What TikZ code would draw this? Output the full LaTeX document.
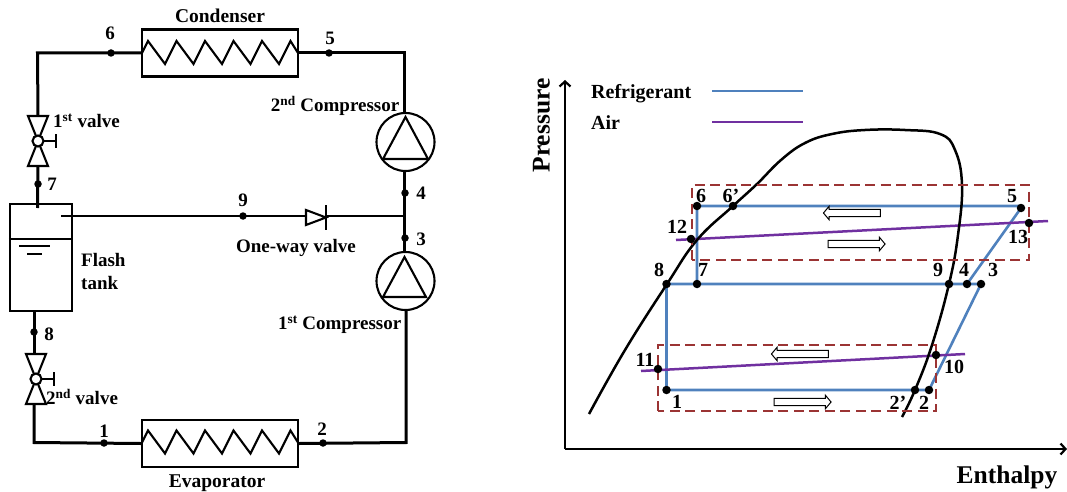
\documentclass[tikz,border=0pt]{standalone}
\usepackage{fontspec}
\setmainfont{Liberation Serif}
\usepackage{xcolor}
\usepackage{tikz}
\usetikzlibrary{shapes.arrows, arrows.meta, positioning, calc, backgrounds}
\definecolor{myblue}{RGB}{79,129,189}
\definecolor{mypurple}{RGB}{112,48,160}
\definecolor{myred}{RGB}{155,52,52}
\tikzset{
  pipe/.style={line width=3pt, color=black},
  part/.style={line width=2.1pt, color=black},
  hxbox/.style={rectangle, draw, line width=2.1pt, minimum width=156pt,
    minimum height=47pt, inner sep=0pt},
  comp/.style={circle, draw, line width=2.1pt, minimum size=58pt, inner sep=0pt},
  dot/.style={circle, fill=black, minimum size=7.5pt, inner sep=0pt},
  pdot/.style={circle, fill=black, minimum size=8.5pt, inner sep=0pt},
  lbl/.style={font=\fontsize{19}{23}\selectfont\bfseries, inner sep=0pt},
  hxlbl/.style={font=\fontsize{19.5}{23}\selectfont\bfseries, inner sep=0pt},
  plbl/.style={font=\fontsize{20}{22}\selectfont\bfseries, inner sep=0pt},
  axlbl/.style={font=\fontsize{25.5}{28}\selectfont\bfseries, inner sep=0pt},
  leglbl/.style={font=\fontsize{20}{22}\selectfont\bfseries, inner sep=0pt, anchor=west},
  refrig/.style={line width=2.6pt, color=myblue},
  air/.style={line width=2.5pt, color=mypurple},
  zone/.style={draw=myred, line width=2.4pt, dash pattern=on 10pt off 5.5pt},
  flow/.style={single arrow, draw, line width=1pt, fill=white, minimum height=57pt,
    single arrow head extend=3pt, single arrow tip angle=100, inner xsep=0pt, inner ysep=3.2pt},
  axis/.style={-{Straight Barb[length=5pt,width=11pt]}, line width=2.2pt}
}
% coil inside a heat exchanger, #1 = y of the pipe
\newcommand{\coil}[1]{
  \draw[part] (142,#1) -- (148,#1-12)
    \foreach \i in {0,...,4} { -- (165+28.5*\i,#1+11) -- (176.5+28.5*\i,#1-12) }
    -- (298,#1);
}
% expansion valve: #1 = x, #2 = y of its centre, #3 = its name
\newcommand{\valve}[3]{
  \coordinate (#3top) at (#1,#2-25);
  \coordinate (#3bot) at (#1,#2+25);
  \draw[part] (#1-10,#2-25) -- (#1+10,#2-25) -- (#1-10,#2+25) -- (#1+10,#2+25) -- cycle;
  \draw[part] (#1,#2) -- (#1+18,#2) (#1+18,#2-7) -- (#1+18,#2+7);
  \node[circle, draw, fill=white, line width=2.1pt, minimum size=11pt, inner sep=0pt] (#3) at (#1,#2) {};
}
% triangle inside a compressor: #1 = apex y, #2 = base y, #3 = apex x, #4 = base right x
\newcommand{\comptri}[4]{
  \draw[part] (#3,#1) -- (#4,#2) -- (2*#3-#4,#2) -- cycle;
}
\begin{document}
\begin{tikzpicture}[x=1pt, y=-1pt]
  \useasboundingbox (0,0) rectangle (1067,492);
  % Heat exchangers
  \node[hxbox] (cond) at (220,53) {};
  \node[hxbox] (evap) at (220,443.5) {};
  \coil{53}
  \coil{442.5}
  \node[hxlbl, above=6pt of cond] (condlbl) {Condenser};
  \node[hxlbl, below=6.5pt of evap, xshift=-3pt] (evaplbl) {Evaporator};
  % Compressors
  \node[comp] (compb) at (405.5,142) {};
  \node[comp] (compa) at (405.5,281) {};
  \comptri{117}{159}{405.5}{428}
  \comptri{257}{297}{404.5}{426}
  \node[lbl, anchor=east] (compblbl) at (399.5,106) {2\textsuperscript{nd} Compressor};
  \node[lbl, anchor=east] (compalbl) at (401.5,325) {1\textsuperscript{st} Compressor};
  % Valves
  \valve{38}{141}{vone}
  \valve{36}{379}{vtwo}
  \node[lbl, anchor=west] (vonelbl) at (53,121) {1\textsuperscript{st} valve};
  \node[lbl, anchor=west] (vtwolbl) at (46,397) {2\textsuperscript{nd} valve};
  % Flash tank
  \node[rectangle, draw, line width=2.1pt, minimum width=62pt, minimum height=107pt, inner sep=0pt] (tank) at (41,257.5) {};
  \draw[part] (tank.west |- 0,239) -- (tank.east |- 0,239);
  \draw[part] (19,246) -- (50,246);
  \draw[part] (27,254) -- (42,254);
  \node[lbl, anchor=west, align=left] (tanklbl) at (81,271.5) {Flash\\tank};
  % One-way valve
  \coordinate (owin) at (306,217);
  \coordinate (owout) at (326,217);
  \coordinate (tee) at (405,216);
  \coordinate (tankin) at (61,216);
  \draw[part] (306,210) -- (326,217.5) -- (306,225) -- cycle;
  \draw[part] (326,205) -- (326,230);
  \node[lbl] (owlbl) at (296,248) {One-way valve};
  % Pipes
  \coordinate (ca) at (37.5,53);
  \coordinate (cb) at (404.5,53);
  \coordinate (cc) at (34,442.5);
  \coordinate (cd) at (406,442.5);
  \draw[pipe] (cond.west) -- (ca) -- (vonetop);
  \draw[pipe] (vonebot) -- (37.5,208);
  \draw[pipe] (cond.east) -- (cb) -- (compb.north -| cb);
  \draw[pipe] (compb.south -| cb) -- (compa.north -| cb);
  \draw[pipe] (compa.south -| cd) -- (cd) -- (evap.east);
  \draw[pipe] (evap.west) -- (cc) -- (vtwobot -| cc);
  \draw[pipe] (vtwotop -| cc) -- (tank.south -| cc);
  \draw[line width=2.4pt] (tankin) -- (owin |- tankin);
  \draw[line width=2.4pt] (owout |- tee) -- (tee);
  % State points, left side
  \node[dot] (la) at (104,443) {};
  \node[dot] (lb) at (323,443) {};
  \node[dot] (lc) at (405,238) {};
  \node[dot] (ld) at (405,193) {};
  \node[dot] (le) at (329,53) {};
  \node[dot] (lf) at (111,53) {};
  \node[dot] (lg) at (38,184) {};
  \node[dot] (lh) at (34,332) {};
  \node[dot] (li) at (243,216) {};
  \node[lbl] at (104,431) {1};
  \node[lbl] at (322,429) {2};
  \node[lbl] at (421,239) {3};
  \node[lbl] at (421,193) {4};
  \node[lbl] at (330,38) {5};
  \node[lbl] at (110,33) {6};
  \node[lbl] at (52,184) {7};
  \node[lbl] at (49,334) {8};
  \node[lbl] at (243,200) {9};
  % Axes
  \coordinate (origin) at (565,449);
  \draw[axis] (origin) -- (565,80);
  \draw[axis] (origin) -- (1067,449);
  \node[axlbl, rotate=90] (plbl) at (541.5,125.5) {Pressure};
  \node[axlbl] (hlbl) at (1007,477.5) {Enthalpy};
  % Legend
  \node[leglbl] (reflbl) at (591,94) {Refrigerant};
  \node[leglbl] (airlbl) at (591,123) {Air};
  \draw[refrig] (712,91) -- (803,91);
  \draw[air] (712,122) -- (803,122);
  % Zones
  \draw[zone] (692,260) -- (692,185) -- (1029,185) -- (1029,260) -- cycle;
  \draw[zone] (658,411) -- (658,345) -- (936,345) -- (936,411) -- cycle;
  % State points, right side
  \node[pdot] (pa) at (666.5,390) {};
  \node[pdot] (pbb) at (915,390) {};
  \node[pdot] (pb) at (929,390) {};
  \node[pdot] (pc) at (981,284) {};
  \node[pdot] (pd) at (967,284) {};
  \node[pdot] (pe) at (1021,208) {};
  \node[pdot] (pf) at (697,206) {};
  \node[pdot] (pff) at (733,206) {};
  \node[pdot] (pg) at (697,284) {};
  \node[pdot] (ph) at (666.5,284) {};
  \node[pdot] (pi) at (949,284) {};
  \node[pdot] (pj) at (936,355) {};
  \node[pdot] (pk) at (658,369) {};
  \node[pdot] (pl) at (691,239) {};
  \node[pdot] (pm) at (1029,223) {};
  \begin{scope}[on background layer]
    % Cycle
    \draw[refrig] (pa.center) -- (pb.center) -- (pc.center) -- (ph.center) -- cycle;
    \draw[refrig] (pd.center) -- (pe.center) -- (pe.center |- pf) -- (pf.center) -- (pg.center);
    % Air lines
    \draw[air] (641,371) -- (965,354);
    \draw[air] (676,240) -- (1048,221);
    % Saturation dome
    \draw[line width=2.5pt] plot[smooth, tension=0.7] coordinates {(589,414) (625,350) (667,284)
      (697,240) (733,206) (757,184) (781,160) (805,143) (832,134) (865,130) (905,130) (940,134)
      (955,150) (962,185) (958,235) (949,284) (932,345) (915,390) (902,417)};
  \end{scope}
  % Flow arrows
  \node[flow, shape border rotate=180] (fa) at (853.5,213) {};
  \node[flow] (fb) at (855,244) {};
  \node[flow, shape border rotate=180] (fc) at (801.5,354) {};
  \node[flow] (fd) at (801,402) {};
  % Point labels
  \node[plbl] at (677,402) {1};
  \node[plbl] at (898,403) {2’};
  \node[plbl] at (924,403) {2};
  \node[plbl] at (993,270) {3};
  \node[plbl] at (964,270) {4};
  \node[plbl] at (1012,196) {5};
  \node[plbl] at (701,196) {6};
  \node[plbl] at (731,196) {6’};
  \node[plbl] at (703,270) {7};
  \node[plbl] at (659,270) {8};
  \node[plbl] at (938,270) {9};
  \node[plbl] at (954,367) {10};
  \node[plbl] at (645,360) {11};
  \node[plbl] at (677,227) {12};
  \node[plbl] at (1018,237) {13};
\end{tikzpicture}
\end{document}
